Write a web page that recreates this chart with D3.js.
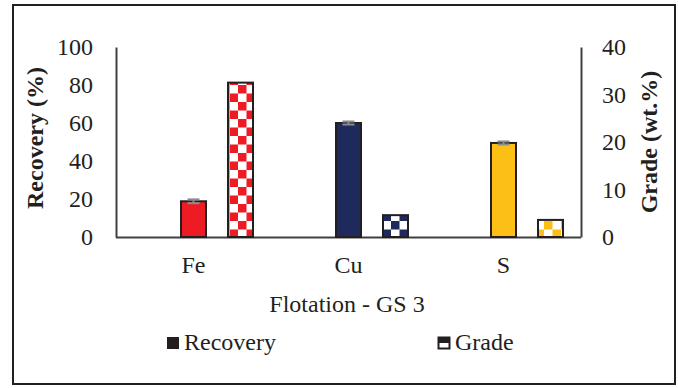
<!DOCTYPE html>
<html><head><meta charset="utf-8">
<script src="https://cdn.jsdelivr.net/npm/d3@7"></script>
</head><body style="margin:0"><svg id="c" width="678" height="388" font-family="Liberation Serif">
<text x="347" y="312" text-anchor="middle" font-family="Liberation Serif" font-size="24" fill="#231f20">Flotation - GS 3</text>
</svg>
<script>
const categories = ["Fe", "Cu", "S"];
const series = ["Recovery", "Grade"];
const recovery = [18.8, 60.0, 49.5];
const recoveryErr = [1.0, 0.8, 0.8];
const grade = [32.5, 4.6, 3.6];
const colors = ["#ed1c24", "#1f2a5c", "#fbbf16"];
const leftTicks = [0, 20, 40, 60, 80, 100];
const rightTicks = [0, 10, 20, 30, 40];

const FONT = "Liberation Serif";
const FS = 24;
const svg = d3.select("#c");
const m = {l: 116, r: 581, t: 47, b: 237};

svg.insert("rect", ":first-child").attr("x", 13).attr("y", 5).attr("width", 662).attr("height", 379)
  .attr("fill", "#fff").attr("stroke", "#231f20").attr("stroke-width", 2);

const x = d3.scaleBand().domain(categories).range([m.l, m.r]).padding(0);
const bw = x.bandwidth();
const barW = 25;
const x1 = d3.scaleBand().domain(series).range([bw / 2 - 23.5, bw / 2 + 70.5]);
const yL = d3.scaleLinear().domain([0, 100]).range([m.b, m.t]);
const yR = d3.scaleLinear().domain([0, 40]).range([m.b, m.t]);

const defs = svg.append("defs");
colors.forEach((c, i) => {
  const p = defs.append("pattern").attr("id", "chk" + i).attr("patternUnits", "userSpaceOnUse")
    .attr("width", 17).attr("height", 17).attr("x", 0).attr("y", 0);
  p.append("rect").attr("width", 17).attr("height", 17).attr("fill", "#fff");
  p.append("rect").attr("width", 8.5).attr("height", 8.5).attr("fill", c);
  p.append("rect").attr("x", 8.5).attr("y", 8.5).attr("width", 8.5).attr("height", 8.5).attr("fill", c);
});

const axL = svg.append("g").attr("transform", `translate(${m.l},0)`)
  .call(d3.axisLeft(yL).tickValues(leftTicks).tickSize(0).tickPadding(23));
const axR = svg.append("g").attr("transform", `translate(${m.r},0)`)
  .call(d3.axisRight(yR).tickValues(rightTicks).tickSize(0).tickPadding(21));
const axB = svg.append("g").attr("transform", `translate(0,${m.b})`)
  .call(d3.axisBottom(x).tickSize(0).tickPadding(19));
[axL, axR, axB].forEach(g => {
  g.attr("font-family", FONT).attr("font-size", FS);
  g.select(".domain").attr("stroke", "#404040").attr("stroke-width", 2);
  g.selectAll("text").attr("font-family", FONT).attr("font-size", FS).attr("fill", "#231f20");
});
axB.select(".domain").attr("d", `M${m.l},0.5H${m.r}`);

const g = svg.append("g");
categories.forEach((cat, i) => {
  const rx = x(cat) + x1("Recovery") + (x1.bandwidth() - barW) / 2;
  g.append("rect").attr("x", rx).attr("y", yL(recovery[i])).attr("width", barW)
    .attr("height", yL(0) - yL(recovery[i])).attr("fill", colors[i])
    .attr("stroke", "#231f20").attr("stroke-width", 2);
  const gx = x(cat) + x1("Grade") + (x1.bandwidth() - barW) / 2;
  g.append("rect").attr("x", gx).attr("y", yR(grade[i])).attr("width", barW)
    .attr("height", yR(0) - yR(grade[i])).attr("fill", `url(#chk${i})`)
    .attr("stroke", "#231f20").attr("stroke-width", 2);
  const cx = rx + barW / 2;
  const y0 = yL(recovery[i] - recoveryErr[i]), y1 = yL(recovery[i] + recoveryErr[i]);
  g.append("line").attr("x1", cx).attr("x2", cx).attr("y1", y0).attr("y2", y1)
    .attr("stroke", "#8c8c8c").attr("stroke-width", 2);
  [y0, y1].forEach(yy => g.append("line").attr("x1", cx - 6).attr("x2", cx + 6)
    .attr("y1", yy).attr("y2", yy).attr("stroke", "#8c8c8c").attr("stroke-width", 2));
});

function txt(sel) { return sel.attr("font-family", FONT).attr("fill", "#231f20").attr("font-size", FS); }
txt(svg.append("text")).attr("transform", "translate(43,138) rotate(-90)").attr("text-anchor", "middle")
  .attr("font-weight", "bold").text("Recovery (%)");
txt(svg.append("text")).attr("transform", "translate(657,142) rotate(-90)").attr("text-anchor", "middle")
  .attr("font-weight", "bold").text("Grade (wt.%)");

svg.append("rect").attr("x", 167).attr("y", 337).attr("width", 12).attr("height", 12).attr("fill", "#231f20");
txt(svg.append("text")).attr("x", 184).attr("y", 350).text(series[0]);
svg.append("rect").attr("x", 438.5).attr("y", 337.5).attr("width", 11).attr("height", 11).attr("fill", "#fff")
  .attr("stroke", "#231f20").attr("stroke-width", 2);
svg.append("rect").attr("x", 438.5).attr("y", 337.5).attr("width", 11).attr("height", 5.5).attr("fill", "#231f20");
txt(svg.append("text")).attr("x", 455).attr("y", 350).text(series[1]);
</script></body></html>
